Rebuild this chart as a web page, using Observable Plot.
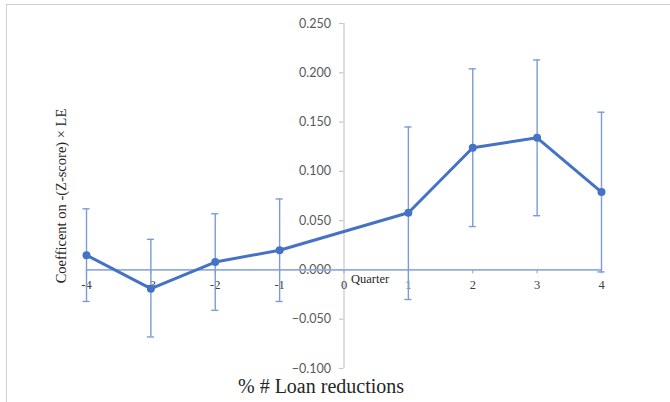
<!DOCTYPE html>
<html>
<head>
<meta charset="utf-8">
<script src="https://cdn.jsdelivr.net/npm/d3@7"></script>
<script src="https://cdn.jsdelivr.net/npm/@observablehq/plot@0.6"></script>
<style>
  html, body { margin: 0; padding: 0; background: #fff; overflow: hidden; }
  #wrap { position: relative; width: 670px; height: 402px; overflow: hidden; }
  #border { position: absolute; left: 6px; top: 4px; right: 0; bottom: 0;
            border-left: 1px solid #d0d0d0; border-top: 1px solid #d0d0d0;
            pointer-events: none; }
  #chart { position: absolute; left: 0; top: 0; }
</style>
</head>
<body>
<div id="wrap"><div id="border"></div><div id="chart"></div></div>
<script>
// Event-study coefficients by quarter relative to the event (no estimate at 0)
const quarters = [-4, -3, -2, -1, 1, 2, 3, 4];
const coef = [0.015, -0.019, 0.008, 0.020, 0.058, 0.124, 0.134, 0.079];
const ciUpper = [0.062, 0.031, 0.057, 0.072, 0.145, 0.204, 0.213, 0.160];
const ciLower = [-0.032, -0.068, -0.041, -0.032, -0.030, 0.044, 0.055, -0.002];

const xTicks = [-4, -3, -2, -1, 0, 1, 2, 3, 4];
const yTicks = [-0.1, -0.05, 0, 0.05, 0.1, 0.15, 0.2, 0.25];

const title = "% # Loan reductions";
const yLabel = "Coefficent on -(Z-score) \u00d7 LE";
const xLabel = "Quarter";

const rows = quarters.map((q, i) => ({q, c: coef[i], lo: ciLower[i], hi: ciUpper[i]}));

const serif = "'Liberation Serif', 'Times New Roman', serif";
const sans = "Lato, 'Open Sans', sans-serif";
const lineColor = "#4472c4";
const barColor = "#7d9bd6";
const axisBlue = "#92acdd";

const chart = Plot.plot({
  width: 670,
  height: 402,
  marginLeft: 86,
  marginRight: 69,
  marginTop: 23,
  marginBottom: 34,
  x: {domain: [-4, 4], axis: null},
  y: {domain: [-0.1, 0.25], axis: null},
  marks: [
    // vertical value axis through quarter 0
    Plot.ruleX([0], {y1: -0.1, y2: 0.25, stroke: "#c8c8c8", strokeWidth: 1.2}),
    Plot.ruleY(yTicks, {x1: -0.07, x2: 0, stroke: "#c8c8c8", strokeWidth: 1.2}),
    Plot.text(yTicks, {
      x: 0, y: d => d, text: d => d3.format(".3f")(d),
      textAnchor: "end", dx: -13, fontFamily: sans, fontSize: 12.5, fill: "#595959"
    }),
    // horizontal axis along zero
    Plot.ruleY([0], {x1: -4, x2: 4, stroke: axisBlue, strokeWidth: 1.8}),
    Plot.ruleX(xTicks, {y1: 0, y2: -0.004, stroke: axisBlue, strokeWidth: 1.2}),
    Plot.text(xTicks, {
      x: d => d, y: 0, text: d => String(d),
      dy: 15, fontFamily: serif, fontSize: 12.5, fill: "#404040"
    }),
    Plot.text([xLabel], {
      x: 0, y: 0, text: d => d, textAnchor: "start", dx: 7, dy: 9,
      fontFamily: serif, fontSize: 12.5, fill: "#262626"
    }),
    // confidence intervals
    Plot.ruleX(rows, {x: "q", y1: "lo", y2: "hi", stroke: barColor, strokeWidth: 1.4}),
    Plot.ruleY(rows, {y: "hi", x1: d => d.q - 0.055, x2: d => d.q + 0.055, stroke: barColor, strokeWidth: 1.4}),
    Plot.ruleY(rows, {y: "lo", x1: d => d.q - 0.055, x2: d => d.q + 0.055, stroke: barColor, strokeWidth: 1.4}),
    // point estimates
    Plot.line(rows, {x: "q", y: "c", stroke: lineColor, strokeWidth: 3, strokeLinejoin: "round"}),
    Plot.dot(rows, {x: "q", y: "c", r: 4, fill: lineColor}),
    // labels
    Plot.text([yLabel], {
      frameAnchor: "left", textAnchor: "middle", rotate: -90, dx: -25, text: d => d,
      fontFamily: serif, fontSize: 14.5, fill: "#262626"
    }),
    Plot.text([title], {
      frameAnchor: "bottom", textAnchor: "middle", lineAnchor: "bottom", dx: -23, dy: 24, text: d => d,
      fontFamily: serif, fontSize: 20, fill: "#262626"
    })
  ]
});
document.getElementById("chart").appendChild(chart);
</script>
</body>
</html>
